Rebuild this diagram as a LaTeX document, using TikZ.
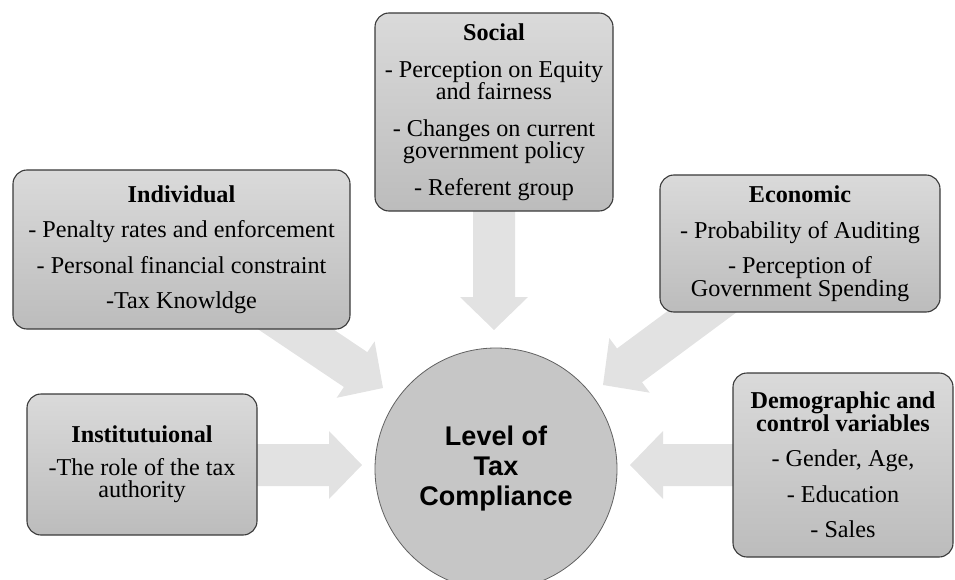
\documentclass[tikz,border=0pt]{standalone}
\usepackage{fontspec}
\setmainfont{Liberation Serif}
\newfontfamily\circfont{Liberation Sans}
\usetikzlibrary{calc}
\definecolor{boxtop}{HTML}{DADADA}
\definecolor{boxbot}{HTML}{BCBCBC}
\definecolor{boxline}{HTML}{3A3A3A}
\definecolor{arrowgray}{HTML}{E2E2E2}
\definecolor{circfill}{HTML}{C6C6C6}
\newcommand\mybxfont{\fontsize{24.2}{22.5}\selectfont\lineskiplimit=-30pt\relax}
\newcommand\blockarrow[2]{%
  \fill[flow] ($(#1)!21pt!90:(#2)$)
    -- ($($(#2)!33pt!(#1)$)!21pt!90:(#2)$)
    -- ($($(#2)!33pt!(#1)$)!34pt!90:(#2)$)
    -- (#2)
    -- ($($(#2)!33pt!(#1)$)!34pt!-90:(#2)$)
    -- ($($(#2)!33pt!(#1)$)!21pt!-90:(#2)$)
    -- ($(#1)!21pt!-90:(#2)$) -- cycle;}
\begin{document}
\begin{tikzpicture}[x=1pt,y=-1pt,
  box/.style={rectangle, rounded corners=14pt, draw=boxline, line width=1.1pt,
    top color=boxtop, bottom color=boxbot, align=center, inner sep=0pt,
    font=\mybxfont},
  flow/.style={fill=arrowgray},
  hub/.style={circle, draw=boxline!80, line width=0.8pt, fill=circfill,
    minimum size=242pt, inner sep=0pt, align=center,
    font=\circfont\bfseries\fontsize{27}{30}\selectfont}]
\useasboundingbox (0,0) rectangle (955,580);
% anchor points of the block arrows
\coordinate (sS) at (494,180);  \coordinate (sT) at (494,330);
\coordinate (iS) at (270,312);  \coordinate (iT) at (383,388);
\coordinate (eS) at (730,291);  \coordinate (eT) at (603,385);
\coordinate (nS) at (235,465);  \coordinate (nT) at (362,465);
\coordinate (dS) at (755,465);  \coordinate (dT) at (630,465);
\blockarrow{sS}{sT}
\blockarrow{iS}{iT}
\blockarrow{eS}{eT}
\blockarrow{nS}{nT}
\blockarrow{dS}{dT}
% boxes
\node[box, minimum width=238pt, minimum height=198pt] (social) at (494,112)
  {\textbf{Social}\\[14pt]- Perception on Equity\\and fairness\\[14pt]- Changes on current\\government policy\\[14pt]- Referent group};
\node[box, minimum width=337pt, minimum height=159pt] (indiv) at (181.5,249.5)
  {\textbf{Individual}\\[13pt]- Penalty rates and enforcement\\[13pt]- Personal financial constraint\\[13pt]-Tax Knowldge};
\node[box, minimum width=280pt, minimum height=137pt] (econ) at (800,243.5)
  {\textbf{Economic}\\[13pt]- Probability of Auditing\\[13pt]- Perception of\\Government Spending};
\node[box, minimum width=220pt, minimum height=184pt] (demo) at (843,465)
  {\textbf{Demographic and}\\\textbf{control variables}\\[13pt]- Gender, Age,\\[13pt]- Education\\[13pt]- Sales};
\node[box, minimum width=230pt, minimum height=141pt] (inst) at (142,464.5)
  {\textbf{Institutuional}\\[10pt]-The role of the tax\\authority};
% hub
\node[hub] (hub) at (496,469) {Level of\\Tax\\Compliance};
\end{tikzpicture}
\end{document}
